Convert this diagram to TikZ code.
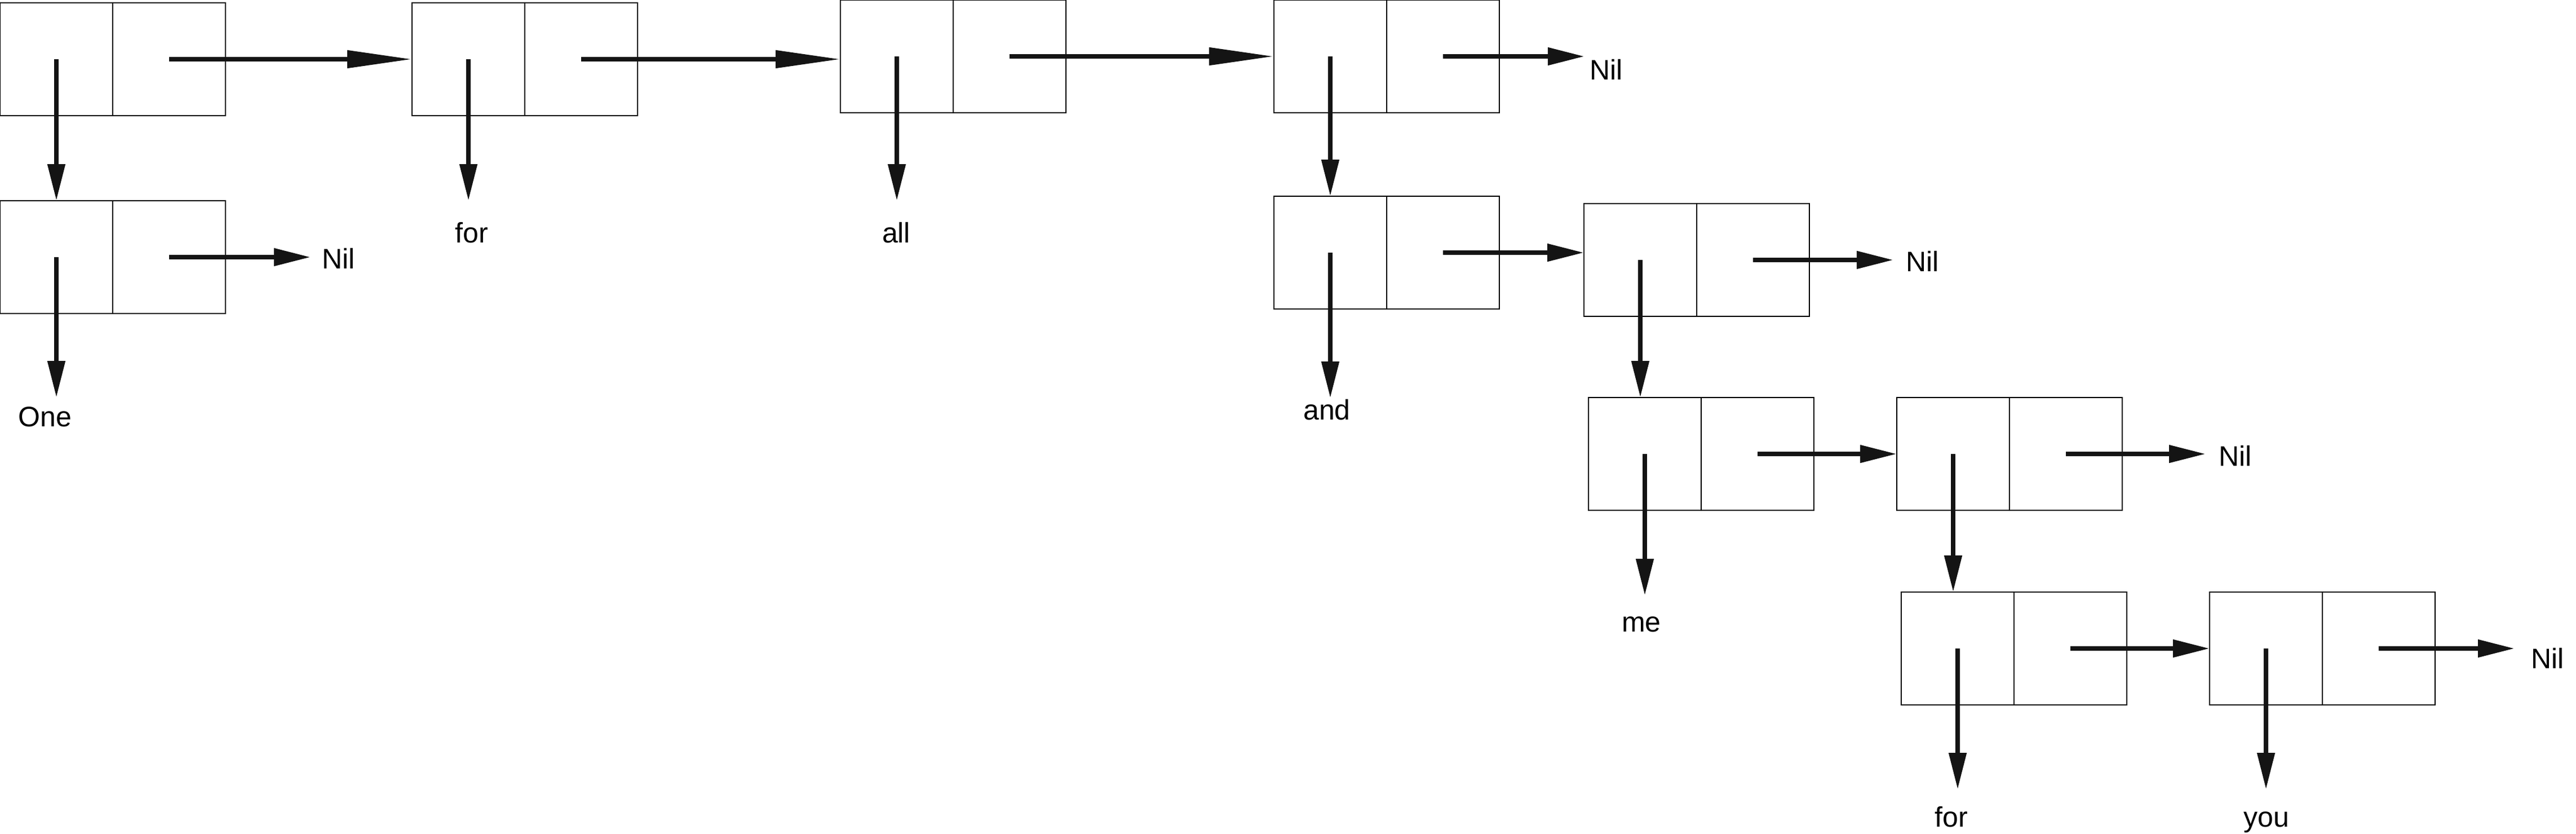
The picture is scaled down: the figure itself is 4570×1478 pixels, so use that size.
\documentclass[tikz,border=0pt]{standalone}
\usepackage{fontspec}
\setmainfont{Liberation Sans}
\usetikzlibrary{arrows.meta,calc}
\definecolor{arrowink}{HTML}{141414}
\tikzset{
  cell/.style={draw, line width=1.5pt, anchor=north west, inner sep=0pt, outer sep=0pt,
    minimum width=400pt, minimum height=200pt,
    path picture={\draw[line width=1.5pt] (path picture bounding box.north) -- (path picture bounding box.south);}},
  ptr/.style={draw=arrowink, line width=8pt, -{Triangle[length=65pt,width=30pt]}},
  longptr/.style={ptr, -{Triangle[length=115pt,width=30pt]}},
  word/.style={anchor=base, inner sep=0pt, font=\fontsize{50}{60}\selectfont},
  nil/.style={word, anchor=base west},
}
\begin{document}
\begin{tikzpicture}[x=1pt, y=-1pt]
  \useasboundingbox (0,0) rectangle (4570,1478);

  % cons cells
  \node[cell] (t1) at (0,5) {};
  \node[cell] (t2) at (731,5) {};
  \node[cell] (t3) at (1491,0) {};
  \node[cell] (t4) at (2260,0) {};
  \node[cell] (s1) at (0,356) {};
  \node[cell] (u1) at (2260,348) {};
  \node[cell] (u2) at (2810,361) {};
  \node[cell] (v1) at (2818,705) {};
  \node[cell] (v2) at (3365,705) {};
  \node[cell] (w1) at (3373,1050) {};
  \node[cell] (w2) at (3920,1050) {};

  % middle of the car and cdr halves
  \coordinate (t1car) at ($(t1.west)!.5!(t1.center)$);
  \coordinate (t1cdr) at ($(t1.center)!.5!(t1.east)$);
  \coordinate (t2car) at ($(t2.west)!.5!(t2.center)$);
  \coordinate (t2cdr) at ($(t2.center)!.5!(t2.east)$);
  \coordinate (t3car) at ($(t3.west)!.5!(t3.center)$);
  \coordinate (t3cdr) at ($(t3.center)!.5!(t3.east)$);
  \coordinate (t4car) at ($(t4.west)!.5!(t4.center)$);
  \coordinate (t4cdr) at ($(t4.center)!.5!(t4.east)$);
  \coordinate (s1car) at ($(s1.west)!.5!(s1.center)$);
  \coordinate (s1cdr) at ($(s1.center)!.5!(s1.east)$);
  \coordinate (u1car) at ($(u1.west)!.5!(u1.center)$);
  \coordinate (u1cdr) at ($(u1.center)!.5!(u1.east)$);
  \coordinate (u2car) at ($(u2.west)!.5!(u2.center)$);
  \coordinate (u2cdr) at ($(u2.center)!.5!(u2.east)$);
  \coordinate (v1car) at ($(v1.west)!.5!(v1.center)$);
  \coordinate (v1cdr) at ($(v1.center)!.5!(v1.east)$);
  \coordinate (v2car) at ($(v2.west)!.5!(v2.center)$);
  \coordinate (v2cdr) at ($(v2.center)!.5!(v2.east)$);
  \coordinate (w1car) at ($(w1.west)!.5!(w1.center)$);
  \coordinate (w1cdr) at ($(w1.center)!.5!(w1.east)$);
  \coordinate (w2car) at ($(w2.west)!.5!(w2.center)$);
  \coordinate (w2cdr) at ($(w2.center)!.5!(w2.east)$);

  % atoms and their arrow ends
  \node[word] (lOne) at (80,756) {One};
  \node[word] (lFor) at (837,430) {for};
  \node[word] (lAll) at (1590,430) {all};
  \node[word] (lAnd) at (2354,744) {and};
  \node[word] (lMe) at (2912,1120) {me};
  \node[word] (lFor2) at (3462,1466) {for};
  \node[word] (lYou) at (4021,1466) {you};
  \coordinate (eOne) at (0,705);
  \coordinate (eFor) at (0,356);
  \coordinate (eAnd) at (0,706);
  \coordinate (eMe) at (0,1056);
  \coordinate (eLast) at (0,1400);

  \node[nil] (nil1) at (571,476) {Nil};
  \node[nil] (nil2) at (2820,141) {Nil};
  \node[nil] (nil3) at (3381,481) {Nil};
  \node[nil] (nil4) at (3936,826) {Nil};
  \node[nil] (nil5) at (4490,1185) {Nil};
  \coordinate (eNil1) at (551,0);
  \coordinate (eNil2) at (2811,0);
  \coordinate (eNil3) at (3359,0);
  \coordinate (eNil4) at (3913,0);
  \coordinate (eNil5) at (4461,0);

  % car pointers
  \draw[ptr] (t1car) -- (t1car |- s1.north);
  \draw[ptr] (t2car) -- (t2car |- eFor);
  \draw[ptr] (t3car) -- (t3car |- eFor);
  \draw[ptr] (t4car) -- (t4car |- u1.north);
  \draw[ptr] (s1car) -- (s1car |- eOne);
  \draw[ptr] (u1car) -- (u1car |- eAnd);
  \draw[ptr] (u2car) -- (u2car |- v1.north);
  \draw[ptr] (v1car) -- (v1car |- eMe);
  \draw[ptr] (v2car) -- (v2car |- w1.north);
  \draw[ptr] (w1car) -- (w1car |- eLast);
  \draw[ptr] (w2car) -- (w2car |- eLast);

  % cdr pointers
  \draw[longptr] (t1cdr) -- (t1cdr -| t2.west);
  \draw[longptr] (t2cdr) -- (t2cdr -| t3.west);
  \draw[longptr] (t3cdr) -- (t3cdr -| t4.west);
  \draw[ptr] (t4cdr) -- (t4cdr -| eNil2);
  \draw[ptr] (s1cdr) -- (s1cdr -| eNil1);
  \draw[ptr] (u1cdr) -- (u1cdr -| u2.west);
  \draw[ptr] (u2cdr) -- (u2cdr -| eNil3);
  \draw[ptr] (v1cdr) -- (v1cdr -| v2.west);
  \draw[ptr] (v2cdr) -- (v2cdr -| eNil4);
  \draw[ptr] (w1cdr) -- (w1cdr -| w2.west);
  \draw[ptr] (w2cdr) -- (w2cdr -| eNil5);
\end{tikzpicture}
\end{document}
